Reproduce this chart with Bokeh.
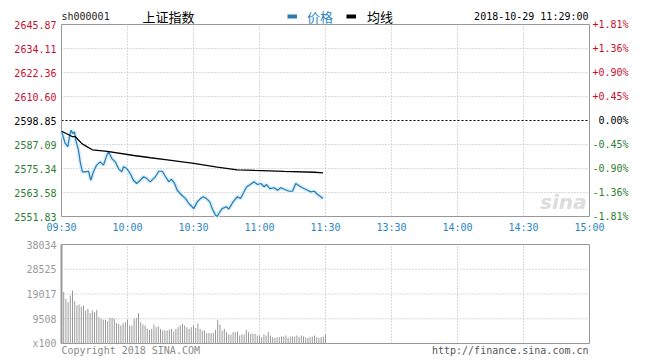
from bokeh.plotting import figure
from bokeh.layouts import column
from bokeh.models import Range1d, Legend, LegendItem, ColumnDataSource
from bokeh.core.properties import value
from bokeh.embed import file_html
from bokeh.resources import INLINE

# ---------------- data ----------------
symbol = "sh000001"
index_name = "上证指数"
timestamp = "2018-10-29 11:29:00"
legend_labels = ["价格", "均线"]
prev_close = 2598.85

price_ticks = [2551.83, 2563.58, 2575.34, 2587.09, 2598.85, 2610.60, 2622.36, 2634.11, 2645.87]
pct_labels = ["-1.81%", "-1.36%", "-0.90%", "-0.45%", "0.00%", "+0.45%", "+0.90%", "+1.36%", "+1.81%"]

time_ticks = [0, 30, 60, 90, 120, 150, 180, 210, 240]
time_labels = ["09:30", "10:00", "10:30", "11:00", "11:30", "13:30", "14:00", "14:30", "15:00"]

# minutes since 09:30 and index price
price_t = [0.1, 1.7, 2.9, 3.6, 4.4, 5.1, 5.9, 6.5, 7.7, 8.5, 9.5, 10.8, 12.3, 13.3, 14.5,
           16.0, 17.6, 19.1, 20.6, 21.4, 22.9, 24.4, 25.9, 27.4, 28.2, 29.7, 31.2, 32.7,
           34.2, 35.8, 37.3, 38.8, 40.3, 41.8, 42.7, 44.2, 45.8, 47.3, 48.8, 49.9, 51.4,
           52.6, 54.9, 56.4, 57.9, 59.4, 60.1, 61.7, 63.2, 64.4, 65.9, 67.4, 68.5, 70.0,
           70.8, 71.5, 73.0, 75.0, 76.0, 78.0, 79.9, 81.4, 83.3, 84.2, 85.8, 87.6, 89.1,
           90.6, 92.1, 93.2, 94.7, 96.7, 98.2, 99.7, 101.2, 103.5, 105.0, 106.5, 108.0,
           109.5, 111.8, 113.3, 114.9, 116.4, 117.9, 118.9]
price_v = [2593.3, 2587.6, 2586.0, 2590.9, 2594.1, 2592.5, 2593.3, 2589.2, 2584.3, 2578.6,
           2573.7, 2573.7, 2574.0, 2569.6, 2573.7, 2577.0, 2578.6, 2577.0, 2581.9, 2583.5,
           2580.2, 2578.6, 2575.3, 2573.7, 2576.2, 2575.3, 2572.9, 2569.6, 2568.0, 2569.6,
           2571.3, 2570.4, 2568.8, 2570.4, 2571.3, 2574.0, 2574.0, 2571.3, 2568.8, 2570.1,
           2568.0, 2564.7, 2562.0, 2560.6, 2558.2, 2556.6, 2555.7, 2559.0, 2560.6, 2561.5,
           2560.6, 2559.0, 2555.7, 2552.4, 2551.9, 2553.3, 2555.7, 2556.6, 2555.4, 2559.0,
           2561.5, 2560.6, 2564.7, 2566.4, 2567.5, 2568.8, 2567.5, 2568.0, 2566.4, 2567.5,
           2565.5, 2565.9, 2564.7, 2565.9, 2565.2, 2564.2, 2564.2, 2568.0, 2566.9, 2565.9,
           2564.7, 2563.9, 2564.2, 2562.6, 2561.5, 2560.6]

avg_t = [0.1, 4.8, 6.2, 9.4, 14.0, 20.8, 32.9, 40.5, 48.1, 60.1, 70.8, 79.9, 87.6, 101.2, 114.9, 118.9]
avg_v = [2593.6, 2591.0, 2591.0, 2587.4, 2584.5, 2583.7, 2581.7, 2580.6, 2579.6, 2577.8,
         2576.0, 2574.7, 2574.4, 2573.9, 2573.5, 2573.2]

vol_ticks = [0, 9508, 19017, 28525, 38034]
vol_tick_labels = ["x100", "9508", "19017", "28525", "38034"]
vol_v = [19720, 17160, 15880, 18440, 20360, 16260, 14600, 14980, 14220, 14600,
         12680, 13320, 11650, 12680, 12040, 12940, 10120, 9480, 9090, 9090,
         8580, 9860, 9860, 9480, 7810, 7560, 6920, 7810, 8200, 9090,
         6920, 6920, 9480, 9860, 11650, 8200, 7300, 6920, 5640, 5250,
         5640, 7300, 6270, 6530, 5640, 4990, 4990, 4990, 5380, 5640,
         4610, 5640, 6270, 6920, 7560, 6920, 6270, 5640, 6270, 6920,
         6020, 7560, 5640, 4990, 4990, 3970, 3970, 3970, 3970, 5250,
         9090, 7300, 4990, 5640, 4350, 3460, 3460, 4350, 4350, 4610,
         3070, 3460, 3460, 5250, 4350, 3710, 3710, 3710, 3070, 3070,
         2430, 3460, 3070, 4350, 3070, 2430, 2180, 2430, 2430, 2690,
         2690, 3070, 2180, 2690, 2690, 2690, 3070, 2430, 3070, 2690,
         2180, 2180, 2430, 2690, 3070, 2430, 2180, 2430, 2690, 3460]
vol_t = list(range(1, len(vol_v) + 1))

copyright_text = "Copyright 2018 SINA.COM"
site_text = "http://finance.sina.com.cn"
watermark = "sina"

# ---------------- styles / geometry (pixels) ----------------
MONO = value("DejaVu Sans Mono")
CJK = value("Noto Sans CJK SC")
F10 = value("10px")
RED = "#c8102e"
GREEN = "#2f7d32"
BLUE_TXT = "#2a86c0"
LINE_BLUE = "#2a7ab0"
GRID = "#b4b4b4"
FRAME = "#999999"

W = 652
BOX_L, BOX_R = 61, 589                  # chart box left/right in page pixels
P_H, P_TOP, P_BOT = 236, 24, 216        # price canvas height, box top/bottom
V_H, V_TOP, V_BOT = 128, 8, 107         # volume canvas height, box top/bottom

t0, t1 = time_ticks[0], time_ticks[-1]
ppm = (BOX_R - BOX_L) / (t1 - t0)
x_range = Range1d(t0 - BOX_L / ppm, t1 + (W - BOX_R) / ppm)

pmin, pmax = price_ticks[0], price_ticks[-1]
ppu = (P_BOT - P_TOP) / (pmax - pmin)
vmin, vmax = vol_ticks[0], vol_ticks[-1]
vpu = (V_BOT - V_TOP) / (vmax - vmin)


def bare_fig(height, y_range):
    f = figure(width=W, height=height, x_range=x_range, y_range=y_range,
               x_axis_location=None, y_axis_location=None, min_border=0,
               output_backend="svg", toolbar_location=None)
    f.outline_line_color = None
    f.grid.visible = False
    return f


# ---------------- price panel ----------------
p = bare_fig(P_H, Range1d(pmin - (P_H - P_BOT) / ppu, pmax + P_TOP / ppu))

inner_t = time_ticks[1:-1]
p.segment(x0=inner_t, y0=pmin, x1=inner_t, y1=pmax, line_color=GRID, line_dash="1 2")
grid_p = [t for t in price_ticks[1:-1] if t != prev_close]
p.segment(x0=t0, y0=grid_p, x1=t1, y1=grid_p, line_color=GRID, line_dash="1 2")
p.segment(x0=[t0], y0=[prev_close], x1=[t1], y1=[prev_close], line_color="black",
          line_dash="2 2")
p.quad(left=[t0], right=[t1], bottom=[pmin], top=[pmax], fill_color=None, line_color=FRAME)

p.text(x=[t1], y=[pmin], text=[watermark], x_offset=-3, y_offset=-3, text_align="right",
       text_baseline="bottom", text_font=value("DejaVu Sans"), text_font_style="bold italic",
       text_font_size=value("20px"), text_color="#dcdcdc")

p.line(price_t, price_v, line_color="#d4eefa", line_width=4)
p.line(price_t, price_v, line_color=LINE_BLUE, line_width=1.2)
p.line(avg_t, avg_v, line_color="black", line_width=1.3)

tick_cols = [RED if t > prev_close else ("black" if t == prev_close else GREEN) for t in price_ticks]
src = ColumnDataSource(dict(y=price_ticks, txt=["%.2f" % t for t in price_ticks],
                            pct=pct_labels, col=tick_cols))
p.text(x=t0, y="y", text="txt", source=src, x_offset=-5, text_align="right",
       text_baseline="middle", text_font=MONO, text_font_size=F10, text_color="col")
p.text(x=t1, y="y", text="pct", source=src, x_offset=39, text_align="right",
       text_baseline="middle", text_font=MONO, text_font_size=F10, text_color="col")
p.text(x=time_ticks, y=pmin, text=time_labels, y_offset=11, text_align="center",
       text_baseline="middle", text_font=MONO, text_font_size=F10, text_color=BLUE_TXT)

# header
p.text(x=[t0], y=[pmax], text=[symbol], y_offset=-8, text_baseline="middle",
       text_font=MONO, text_font_size=F10, text_color="#222222")
p.text(x=[t0], y=[pmax], text=[index_name], x_offset=81, y_offset=-8, text_baseline="middle",
       text_font=CJK, text_font_size=value("13px"), text_color="black")
p.text(x=[t1], y=[pmax], text=[timestamp], x_offset=-1, y_offset=-8, text_align="right",
       text_baseline="middle", text_font=MONO, text_font_size=F10, text_color="black")

# legend swatches: thick hidden copies of the two series
sw_price = p.line(price_t, price_v, line_color=LINE_BLUE, line_width=4, visible=False)
sw_avg = p.line(avg_t, avg_v, line_color="black", line_width=4, visible=False)
for rend, lab, loc, col, stand in [(sw_price, legend_labels[0], (287, P_H - 26), BLUE_TXT, 10),
                                   (sw_avg, legend_labels[1], (346, P_H - 26), "black", 11)]:
    p.add_layout(Legend(items=[LegendItem(label=lab, renderers=[rend])], location=loc,
                        orientation="horizontal", padding=0, margin=0, border_line_color=None,
                        background_fill_alpha=0, inactive_fill_alpha=0,
                        glyph_width=10, glyph_height=20, label_height=20,
                        label_standoff=stand, label_text_font="Noto Sans CJK SC",
                        label_text_font_size="13px", label_text_color=col,
                        label_text_baseline="middle", click_policy="none"))

# ---------------- volume panel ----------------
v = bare_fig(V_H, Range1d(vmin - (V_H - V_BOT) / vpu, vmax + V_TOP / vpu))
v.segment(x0=inner_t, y0=vmin, x1=inner_t, y1=vmax, line_color=GRID, line_dash="1 2")
grid_v = vol_ticks[1:-1]
v.segment(x0=t0, y0=grid_v, x1=t1, y1=grid_v, line_color=GRID, line_dash="1 2")
v.segment(x0=vol_t, y0=vmin, x1=vol_t, y1=vol_v, line_color="#999999", line_width=1)
v.quad(left=[t0], right=[t1], bottom=[vmin], top=[vmax], fill_color=None, line_color=FRAME)
v.segment(x0=[t0], y0=[vmin], x1=[t0], y1=[vmax], line_color=FRAME, line_width=2)

v.text(x=t0, y=vol_ticks, text=vol_tick_labels, x_offset=-5, text_align="right",
       text_baseline="middle", text_font=MONO, text_font_size=F10, text_color="#9a9a9a")
v.text(x=[t0], y=[vmin], text=[copyright_text], y_offset=7, text_baseline="middle",
       text_font=MONO, text_font_size=F10, text_color="#8a8a8a")
v.text(x=[t1], y=[vmin], text=[site_text], x_offset=-1, y_offset=7, text_align="right",
       text_baseline="middle", text_font=MONO, text_font_size=F10, text_color="#555555")

layout = column(p, v)
open("out.html", "w").write(file_html(layout, INLINE))
